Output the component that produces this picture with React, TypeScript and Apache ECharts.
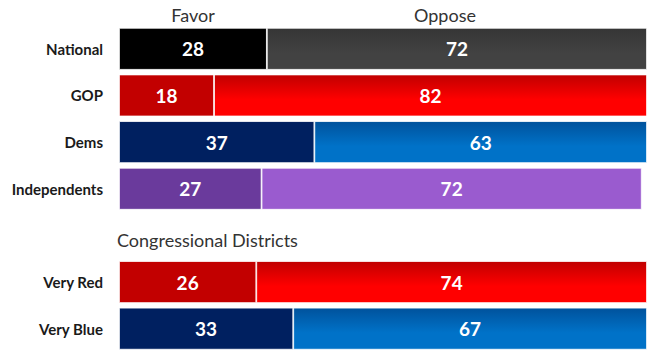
import React, { useEffect, useRef } from "react";
import * as echarts from "echarts";

const categories = ["National", "GOP", "Dems", "Independents", "", "Very Red", "Very Blue"];
const favorValues: (number | string)[] = [28, 18, 37, 27, "-", 26, 33];
const opposeValues: (number | string)[] = [72, 82, 63, 72, "-", 74, 67];
const headerLabels = ["Favor", "Oppose"];
const sectionLabel = "Congressional Districts";

const favorColors = ["#000000", "#c20000", "#002060", "#6a3a9c", "#ffffff", "#c20000", "#002060"];
const opposeTop = ["#353535", "#c00000", "#00529c", "#9a5bcf", "#ffffff", "#c00000", "#00529c"];
const opposeBottom = ["#424242", "#ff0000", "#0072c8", "#9a5bcf", "#ffffff", "#ff0000", "#0072c8"];

function grad(a: string, b: string) {
  return new echarts.graphic.LinearGradient(0, 0, 0, 1, [
    { offset: 0, color: a },
    { offset: 0.6, color: b },
    { offset: 1, color: b },
  ]);
}

export default function App() {
  const ref = useRef<HTMLDivElement>(null);
  useEffect(() => {
    if (!ref.current) return;
    const chart = echarts.init(ref.current, undefined, { renderer: "svg" });
    const labelStyle = {
      show: true,
      position: "inside" as const,
      color: "#ffffff",
      fontFamily: "Lato",
      fontWeight: "bold" as const,
      fontSize: 19,
    };
    chart.setOption({
      animation: false,
      backgroundColor: "#ffffff",
      grid: { left: 119, top: 25.5, width: 528, height: 330.5, containLabel: false },
      xAxis: { type: "value", min: 0, max: 100, show: false },
      yAxis: {
        type: "category",
        data: categories,
        inverse: true,
        axisLine: { show: false },
        axisTick: { show: false },
        axisLabel: {
          color: "#1a1a1a",
          fontFamily: "Lato",
          fontWeight: "bold",
          fontSize: 15,
          margin: 16,
        },
      },
      graphic: [
        {
          type: "text",
          x: 193,
          y: 15,
          style: {
            text: headerLabels[0],
            fontFamily: "Lato",
            fontSize: 18,
            fill: "#333333",
            align: "center",
            verticalAlign: "middle",
          },
        },
        {
          type: "text",
          x: 445,
          y: 15,
          style: {
            text: headerLabels[1],
            fontFamily: "Lato",
            fontSize: 18,
            fill: "#333333",
            align: "center",
            verticalAlign: "middle",
          },
        },
        {
          type: "text",
          x: 117,
          y: 240,
          style: {
            text: sectionLabel,
            fontFamily: "Lato",
            fontSize: 18,
            fill: "#333333",
            align: "left",
            verticalAlign: "middle",
          },
        },
      ],
      series: [
        {
          type: "bar",
          stack: "total",
          barCategoryGap: "10%",
          data: favorValues.map((v, i) => ({
            value: v,
            itemStyle: { color: favorColors[i], borderColor: "#ffffff", borderWidth: 0.8 },
          })),
          label: labelStyle,
        },
        {
          type: "bar",
          stack: "total",
          barCategoryGap: "10%",
          data: opposeValues.map((v, i) => ({
            value: v,
            itemStyle: { color: grad(opposeTop[i], opposeBottom[i]), borderColor: "#ffffff", borderWidth: 0.8 },
          })),
          label: labelStyle,
        },
      ],
    });
    return () => chart.dispose();
  }, []);
  return <div ref={ref} style={{ width: 650, height: 352, position: "absolute", left: 0, top: 0 }} />;
}
